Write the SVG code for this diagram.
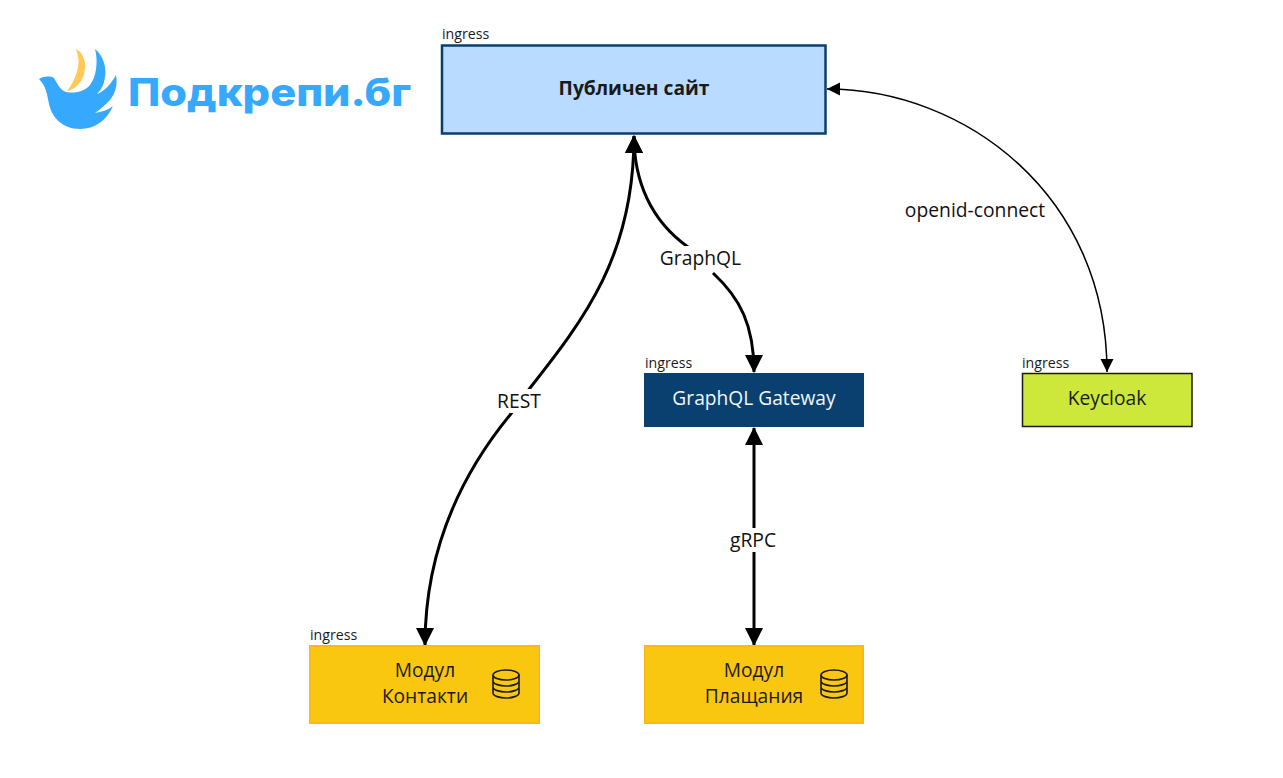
<svg xmlns="http://www.w3.org/2000/svg" width="1283" height="778" viewBox="0 0 1283 778">
<style>
text{font-family:"Open Sans","Noto Sans",sans-serif;fill:#1a1a1a}
.t{font-size:19.200px;text-anchor:middle}
.i{font-size:14.200px}
.c{fill:none;stroke:#000;stroke-width:3}
.m{fill:#fac710;stroke:#fdb813;stroke-width:2}
.db{fill:none;stroke:#1a1a1a;stroke-width:1.600}
.lb{font-size:19.300px;text-anchor:middle;fill:#111}
</style>
<defs>
<marker id="big" markerUnits="userSpaceOnUse" markerWidth="20" markerHeight="20" refX="17" refY="9" orient="auto-start-reverse"><path d="M0 0L18 9L0 18Z" fill="#000"/></marker>
<marker id="small" markerUnits="userSpaceOnUse" markerWidth="15" markerHeight="15" refX="13" refY="6.500" orient="auto-start-reverse"><path d="M0 0L13 6.500L0 13Z" fill="#000"/></marker>
<g id="dbicon"><ellipse class="db" cx="0" cy="-9" rx="13" ry="5"/><path class="db" d="M-13-9V9C-13 12 -6 14 0 14S13 12 13 9V-9M-13-3C-13 0 -6 2 0 2S13 0 13-3M-13 3C-13 6 -6 8 0 8S13 6 13 3"/></g>
</defs>
<rect width="1283" height="778" fill="#fff"/>
<g id="logo">
<path fill="#36a9ff" d="M39 79C44 76 50 76 54 78C57 83 60 90 66 92C76 94 85 91 90 85C97 76 98 60 95 49C103 55 107 68 105 77C104 84 102 89 97 94C105 91 111 84 116 75C118 85 115 96 107 103C103 107 99 110 95 113C101 112 108 110 113 106C107 120 95 129 80 129C63 129 52 118 49 104C47 94 46 86 39 79Z"/>
<path fill="#ffc857" d="M76 49C82 52 86 60 85 68C84 80 77 89 67 91C73 84 78 72 78.500 63C79 57 77 53 76 49Z"/>
<text x="128" y="106" font-size="38.500" font-weight="800" textLength="283" lengthAdjust="spacingAndGlyphs" style="font-family:Inter,Lato,sans-serif;fill:#36a9ff">Подкрепи.бг</text>
</g>
<g id="connectors">
<path class="c" marker-start="url(#big)" marker-end="url(#big)" d="M634 136C634 255 585 318 530 388L510 415C465 470 425 545 425 645"/>
<path class="c" marker-start="url(#big)" marker-end="url(#big)" d="M634 136C634 180 650 220 688 247M713 273C740 298 754 325 754 372"/>
<path class="c" marker-start="url(#big)" marker-end="url(#big)" d="M754 428V645"/>
<path fill="none" stroke="#000" stroke-width="1.500" marker-start="url(#small)" marker-end="url(#small)" d="M827 89C965 89 1107 195 1107 372"/>
</g>
<g id="labels">
<rect x="496" y="389" width="46" height="24" fill="#fff"/><text class="lb" x="519" y="408">REST</text>
<rect x="658" y="246" width="85" height="26" fill="#fff"/><text class="lb" x="700.500" y="265">GraphQL</text>
<rect x="728" y="528" width="50" height="24" fill="#fff"/><text class="lb" x="753" y="547">gRPC</text>
<rect x="904" y="198" width="142" height="24" fill="#fff"/><text class="lb" x="975" y="217">openid-connect</text>
</g>
<g id="site"><rect x="442" y="45.500" width="383.500" height="88" fill="#b8dbff" stroke="#0a3f6c" stroke-width="2.500"/><text x="442" y="39" class="i">ingress</text><text x="634" y="95" class="t" font-weight="700">Публичен сайт</text></g>
<g id="gateway"><rect x="644" y="373" width="220" height="54" fill="#09406f"/><text x="645" y="368" class="i">ingress</text><text x="754" y="404.500" class="t" style="fill:#f2f6fa">GraphQL Gateway</text></g>
<g id="keycloak"><rect x="1022.500" y="373.500" width="169.500" height="53" fill="#cde83b" stroke="#1a1a1a" stroke-width="1.500"/><text x="1022" y="368" class="i">ingress</text><text x="1107" y="404.500" class="t">Keycloak</text></g>
<g id="contacts"><rect class="m" x="310" y="646" width="229" height="77"/><text x="310" y="640" class="i">ingress</text><text x="425" y="676.500" class="t">Модул</text><text x="425" y="702.500" class="t">Контакти</text><use href="#dbicon" x="506" y="684"/></g>
<g id="payments"><rect class="m" x="645" y="646" width="218" height="77"/><text x="754" y="676.500" class="t">Модул</text><text x="754" y="702.500" class="t">Плащания</text><use href="#dbicon" x="834" y="684"/></g>
</svg>
